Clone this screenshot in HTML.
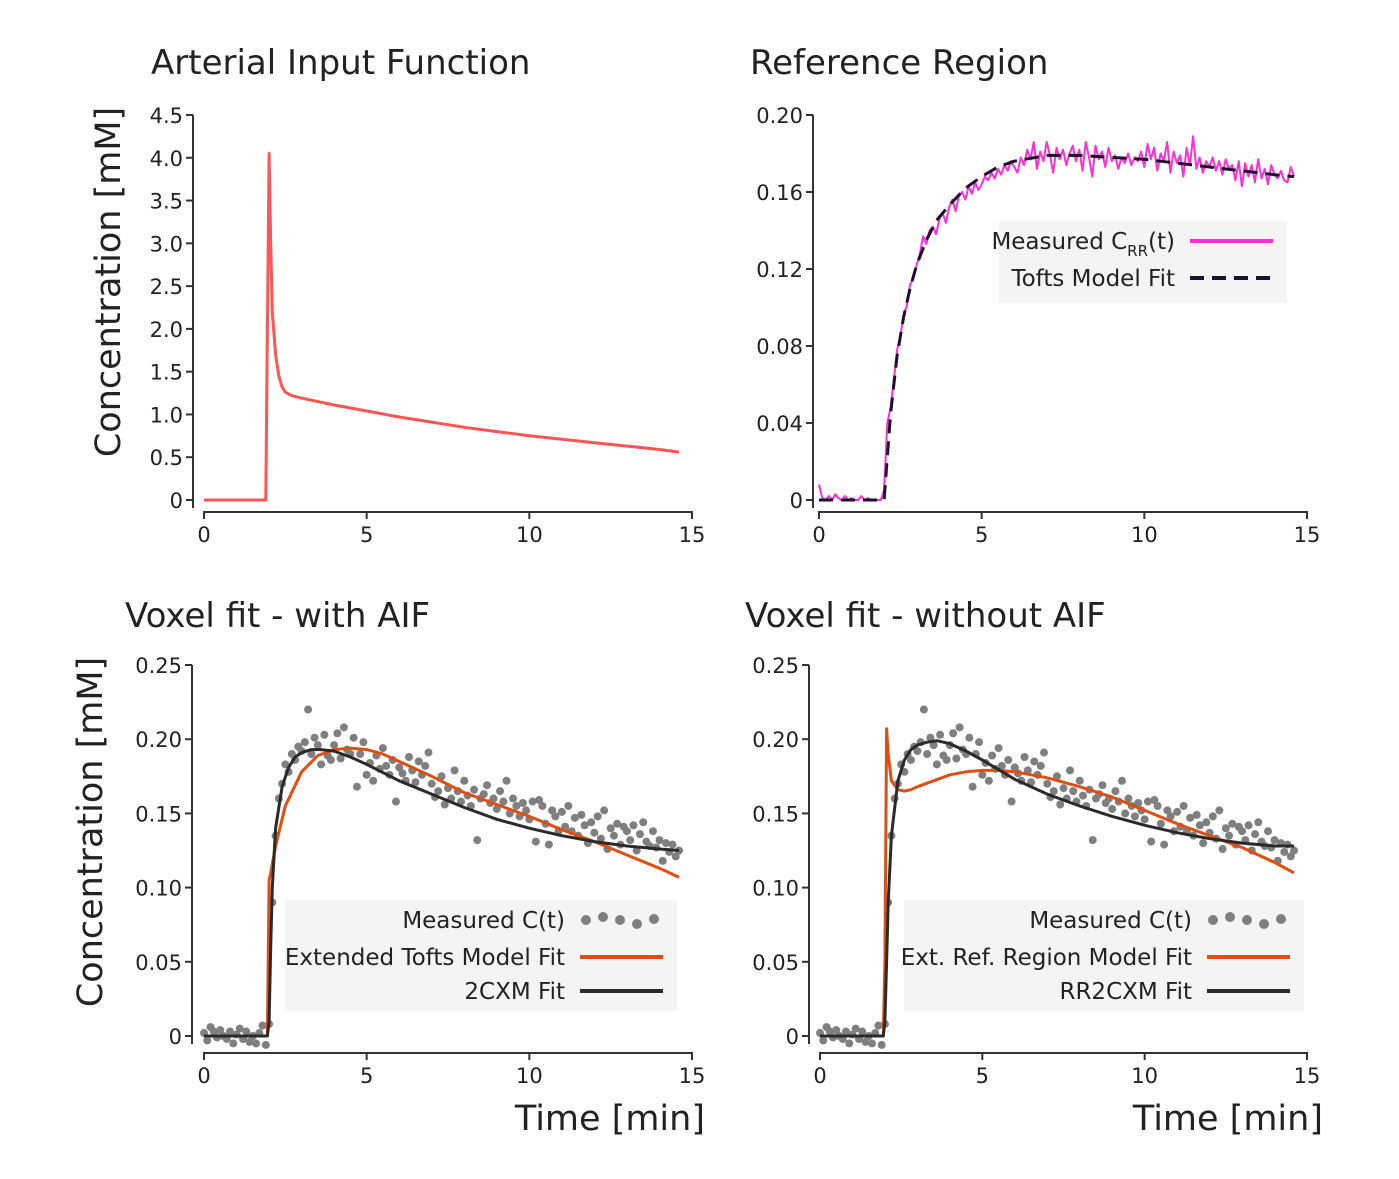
<!DOCTYPE html>
<html><head><meta charset="utf-8"><style>
body{margin:0;background:#fff}
svg text{font-family:"DejaVu Sans","Liberation Sans",sans-serif;fill:#222}
</style></head><body>
<svg id="fig" width="1399" height="1174" xmlns="http://www.w3.org/2000/svg"></svg>
<script>
// ---------- data ----------
const aifT=[0,1.9,1.95,2.0,2.05,2.1,2.2,2.3,2.4,2.5,2.7,3,4,5,6,7,8,9,10,11,12,13,14,14.6];
const aifV=[0,0,2.0,4.05,3.0,2.2,1.7,1.45,1.32,1.26,1.22,1.19,1.11,1.04,0.97,0.91,0.85,0.80,0.75,0.71,0.67,0.63,0.59,0.56];
const rrFitT=[0,2.0,2.2,2.4,2.6,2.8,3.0,3.3,3.6,4,4.5,5,5.5,6,7,8,9,10,11,12,13,14,14.6];
const rrFitV=[0,0,0.045,0.075,0.095,0.11,0.122,0.135,0.145,0.153,0.162,0.168,0.173,0.176,0.179,0.179,0.178,0.177,0.175,0.173,0.171,0.169,0.168];
const rrMeas=[0.008,0.001,0.000,0.002,0.000,0.003,0.001,0.000,0.002,0.000,0.001,0.000,0.000,0.002,0.000,0.001,0.000,0.000,0.000,0.000,
0.005,0.040,0.048,0.062,0.078,0.085,0.096,0.101,0.112,0.115,0.122,0.128,0.137,0.133,0.140,0.142,0.138,0.146,0.149,0.144,
0.152,0.156,0.150,0.158,0.160,0.156,0.163,0.159,0.165,0.161,0.164,0.168,0.166,0.170,0.167,0.172,0.169,0.174,0.171,0.176,
0.173,0.170,0.178,0.174,0.182,0.177,0.186,0.172,0.181,0.176,0.186,0.179,0.170,0.183,0.177,0.182,0.174,0.180,0.184,0.176,
0.182,0.171,0.186,0.178,0.168,0.184,0.177,0.181,0.173,0.183,0.176,0.179,0.172,0.178,0.175,0.180,0.174,0.178,0.176,0.181,
0.173,0.185,0.177,0.183,0.171,0.180,0.176,0.186,0.170,0.181,0.175,0.179,0.168,0.183,0.174,0.189,0.172,0.178,0.170,0.176,
0.173,0.178,0.171,0.176,0.169,0.177,0.172,0.174,0.166,0.176,0.163,0.175,0.168,0.174,0.165,0.177,0.167,0.172,0.164,0.174,
0.169,0.167,0.171,0.166,0.165,0.173,0.168];
const vox=[0.002,-0.003,0.006,0.003,-0.001,0.004,0.000,-0.002,0.003,-0.005,0.001,0.005,-0.002,0.003,-0.004,0.000,-0.005,0.002,0.007,-0.006,
0.008,0.09,0.135,0.16,0.17,0.183,0.178,0.19,0.186,0.195,0.192,0.198,0.22,0.19,0.201,0.196,0.183,0.203,0.189,0.186,
0.196,0.204,0.187,0.208,0.193,0.19,0.201,0.168,0.19,0.198,0.176,0.184,0.172,0.189,0.18,0.194,0.182,0.176,0.186,0.158,
0.181,0.177,0.172,0.188,0.179,0.171,0.185,0.176,0.182,0.191,0.17,0.161,0.165,0.175,0.156,0.167,0.16,0.179,0.165,0.158,
0.172,0.162,0.155,0.166,0.132,0.16,0.163,0.169,0.157,0.16,0.153,0.165,0.158,0.172,0.15,0.16,0.155,0.148,0.157,0.152,
0.146,0.158,0.131,0.159,0.155,0.143,0.129,0.152,0.148,0.138,0.151,0.141,0.155,0.138,0.147,0.135,0.149,0.142,0.13,0.144,
0.137,0.148,0.133,0.152,0.126,0.14,0.135,0.143,0.129,0.141,0.138,0.132,0.142,0.125,0.136,0.144,0.131,0.128,0.138,0.127,
0.132,0.118,0.13,0.124,0.129,0.121,0.125];
const etT=[0,1.95,2.0,2.05,2.2,2.5,3,3.5,4,4.5,5,5.5,6,7,8,9,10,11,12,13,14,14.6];
const etV=[0,0,0.105,0.11,0.128,0.155,0.178,0.189,0.193,0.194,0.193,0.19,0.185,0.175,0.164,0.156,0.148,0.139,0.131,0.122,0.113,0.107];
const cxT=[0,1.95,2.0,2.05,2.1,2.2,2.4,2.6,2.8,3,3.3,3.6,4,4.5,5,6,7,8,9,10,11,12,13,14,14.6];
const cxV=[0,0,0.01,0.06,0.1,0.14,0.168,0.181,0.188,0.191,0.193,0.193,0.192,0.188,0.183,0.172,0.163,0.154,0.146,0.14,0.135,0.131,0.128,0.126,0.125];
const errT=[0,1.95,2.0,2.05,2.1,2.2,2.4,2.6,2.8,3,3.5,4,4.5,5,5.5,6,7,8,9,10,11,12,13,14,14.6];
const errV=[0,0,0.05,0.207,0.19,0.172,0.166,0.165,0.166,0.168,0.172,0.176,0.178,0.179,0.179,0.178,0.174,0.168,0.161,0.152,0.143,0.135,0.127,0.117,0.11];
const rcxT=[0,1.95,2.0,2.05,2.1,2.2,2.4,2.6,2.8,3,3.3,3.6,4,4.5,5,6,7,8,9,10,11,12,13,14,14.6];
const rcxV=[0,0,0.01,0.05,0.09,0.135,0.172,0.186,0.193,0.196,0.198,0.199,0.197,0.192,0.186,0.173,0.163,0.155,0.148,0.142,0.137,0.133,0.13,0.128,0.128];
const xTicks=[0,5,10,15];
const aifTicks=[0,0.5,1.0,1.5,2.0,2.5,3.0,3.5,4.0,4.5];
const aifTickLbl=["0","0.5","1.0","1.5","2.0","2.5","3.0","3.5","4.0","4.5"];
const rrTicks=[0,0.04,0.08,0.12,0.16,0.20];
const rrTickLbl=["0","0.04","0.08","0.12","0.16","0.20"];
const voxTicks=[0,0.05,0.10,0.15,0.20,0.25];
const voxTickLbl=["0","0.05","0.10","0.15","0.20","0.25"];
const measT=rrMeas.map((v,i)=>i*0.1);

const NS="http://www.w3.org/2000/svg";
const svg=document.getElementById('fig');
function mk(tag,attrs,parent,txt){const e=document.createElementNS(NS,tag);for(const k in attrs)e.setAttribute(k,attrs[k]);if(txt!==undefined)e.textContent=txt;(parent||svg).appendChild(e);return e;}

function panel(o){
  const g=mk('g',{});
  
  
  const sx=t=>o.x0+(t/15)*(o.x15-o.x0);
  const sy=v=>o.y0-(v/o.ymax)*(o.y0-o.ytop);
  o.sx=sx;o.sy=sy;o.g=g;
  const ya=mk('line',{x1:o.yax,y1:o.ytop,x2:o.yax,y2:o.y0+8,stroke:'#333','stroke-width':2},g);
  
  const xa=mk('line',{x1:o.x0-1,y1:o.xay,x2:o.x15+1,y2:o.xay,stroke:'#333','stroke-width':2},g);
  
  xTicks.forEach(t=>{
    mk('line',{x1:sx(t),y1:o.xay,x2:sx(t),y2:o.xay+7,stroke:'#333','stroke-width':2},g);
    const l=mk('text',{x:sx(t),y:o.xay+30,'text-anchor':'middle','font-size':21},g,String(t));
    
  });
  o.yt.forEach((v,i)=>{
    mk('line',{x1:o.yax-7,y1:sy(v),x2:o.yax,y2:sy(v),stroke:'#333','stroke-width':2},g);
    const l=mk('text',{x:o.yax-10,y:sy(v)+8,'text-anchor':'end','font-size':21},g,o.yl[i]);
    
  });
  const tt=mk('text',{x:o.tx,y:o.ty,'font-size':34},g,o.title);
  
  return o;
}
function line(o,T,V,color,w,name,dash){
  const d=T.map((t,i)=>(i?'L':'M')+o.sx(t).toFixed(1)+','+o.sy(V[i]).toFixed(1)).join('');
  const p=mk('path',{d:d,fill:'none',stroke:color,'stroke-width':w,'stroke-linejoin':'round'},o.g);
  if(dash)p.setAttribute('stroke-dasharray',dash);
  
}
function dots(o,T,V){
  T.forEach((t,i)=>{
    const c=mk('circle',{cx:o.sx(t),cy:o.sy(V[i]),r:4,fill:'#7f7f7f'},o.g);
    
  });
}
function legend(o,x,y,w,h,items){
  const lg=mk('g',{},o.g);
  
  mk('rect',{x:x,y:y,width:w,height:h,fill:'#f4f4f4'},lg);
  items.forEach(it=>{
    const t=mk('text',{x:x+w-112,y:it.y+8,'text-anchor':'end','font-size':23},lg);
    t.innerHTML=it.label;
    
    const lx1=x+w-97,lx2=x+w-14;
    if(it.kind==='dots'){[0,1,2,3,4].forEach(k=>mk('circle',{cx:lx1+6+k*17,cy:it.y+[0,-3,0,4,-1][k],r:5,fill:'#7f7f7f'},lg));}
    else{const l=mk('line',{x1:lx1,y1:it.y,x2:lx2,y2:it.y,stroke:it.color,'stroke-width':4},lg);if(it.dash)l.setAttribute('stroke-dasharray',it.dash);}
  });
}

const A=panel({name:'arterial-input-function-panel',x0:204,x15:692,y0:500,ytop:115,ymax:4.5,yax:193,xay:512,yt:aifTicks,yl:aifTickLbl,title:'Arterial Input Function',tx:151,ty:74});
line(A,aifT,aifV,'#ff5555',3,'aif-line');

const R=panel({name:'reference-region-panel',x0:819,x15:1307,y0:500,ytop:115,ymax:0.20,yax:813,xay:512,yt:rrTicks,yl:rrTickLbl,title:'Reference Region',tx:750,ty:74});
line(R,measT,rrMeas,'#ff2fd6',2,'measured-crr-line');
line(R,rrFitT,rrFitV,'#1e0f2a',3,'tofts-fit-line','14,8');
legend(R,999,221,288,82,[{label:'Measured C<tspan font-size="15" dy="7">RR</tspan><tspan dy="-7">(t)</tspan>',color:'#ff2fd6',y:241},{label:'Tofts Model Fit',color:'#1e0f2a',dash:'14,8',y:278}]);

const B=panel({name:'voxel-fit-with-aif-panel',x0:204,x15:692,y0:1036,ytop:665,ymax:0.25,yax:192,xay:1053,yt:voxTicks,yl:voxTickLbl,title:'Voxel fit - with AIF',tx:125,ty:627});
dots(B,measT,vox);
line(B,etT,etV,'#e04e12',3,'extended-tofts-fit-line');
line(B,cxT,cxV,'#2a2a2a',3,'2cxm-fit-line');
legend(B,285,900,392,111,[{label:'Measured C(t)',kind:'dots',y:920},{label:'Extended Tofts Model Fit',color:'#e04e12',y:957},{label:'2CXM Fit',color:'#2a2a2a',y:991}]);

const C=panel({name:'voxel-fit-without-aif-panel',x0:820,x15:1307,y0:1036,ytop:665,ymax:0.25,yax:809,xay:1053,yt:voxTicks,yl:voxTickLbl,title:'Voxel fit - without AIF',tx:745,ty:627});
dots(C,measT,vox);
line(C,errT,errV,'#e04e12',3,'ext-ref-region-fit-line');
line(C,rcxT,rcxV,'#2a2a2a',3,'rr2cxm-fit-line');
legend(C,904,900,400,111,[{label:'Measured C(t)',kind:'dots',y:920},{label:'Ext. Ref. Region Model Fit',color:'#e04e12',y:957},{label:'RR2CXM Fit',color:'#2a2a2a',y:991}]);

[[120,282],[102,832]].forEach(p=>{
  const t=mk('text',{x:p[0],y:p[1],'text-anchor':'middle','font-size':35,transform:'rotate(-90 '+p[0]+' '+p[1]+')'},svg,'Concentration [mM]');
  
});
[705,1323].forEach(x=>{
  const t=mk('text',{x:x,y:1130,'text-anchor':'end','font-size':35},svg,'Time [min]');
  
});
</script>
</body></html>
